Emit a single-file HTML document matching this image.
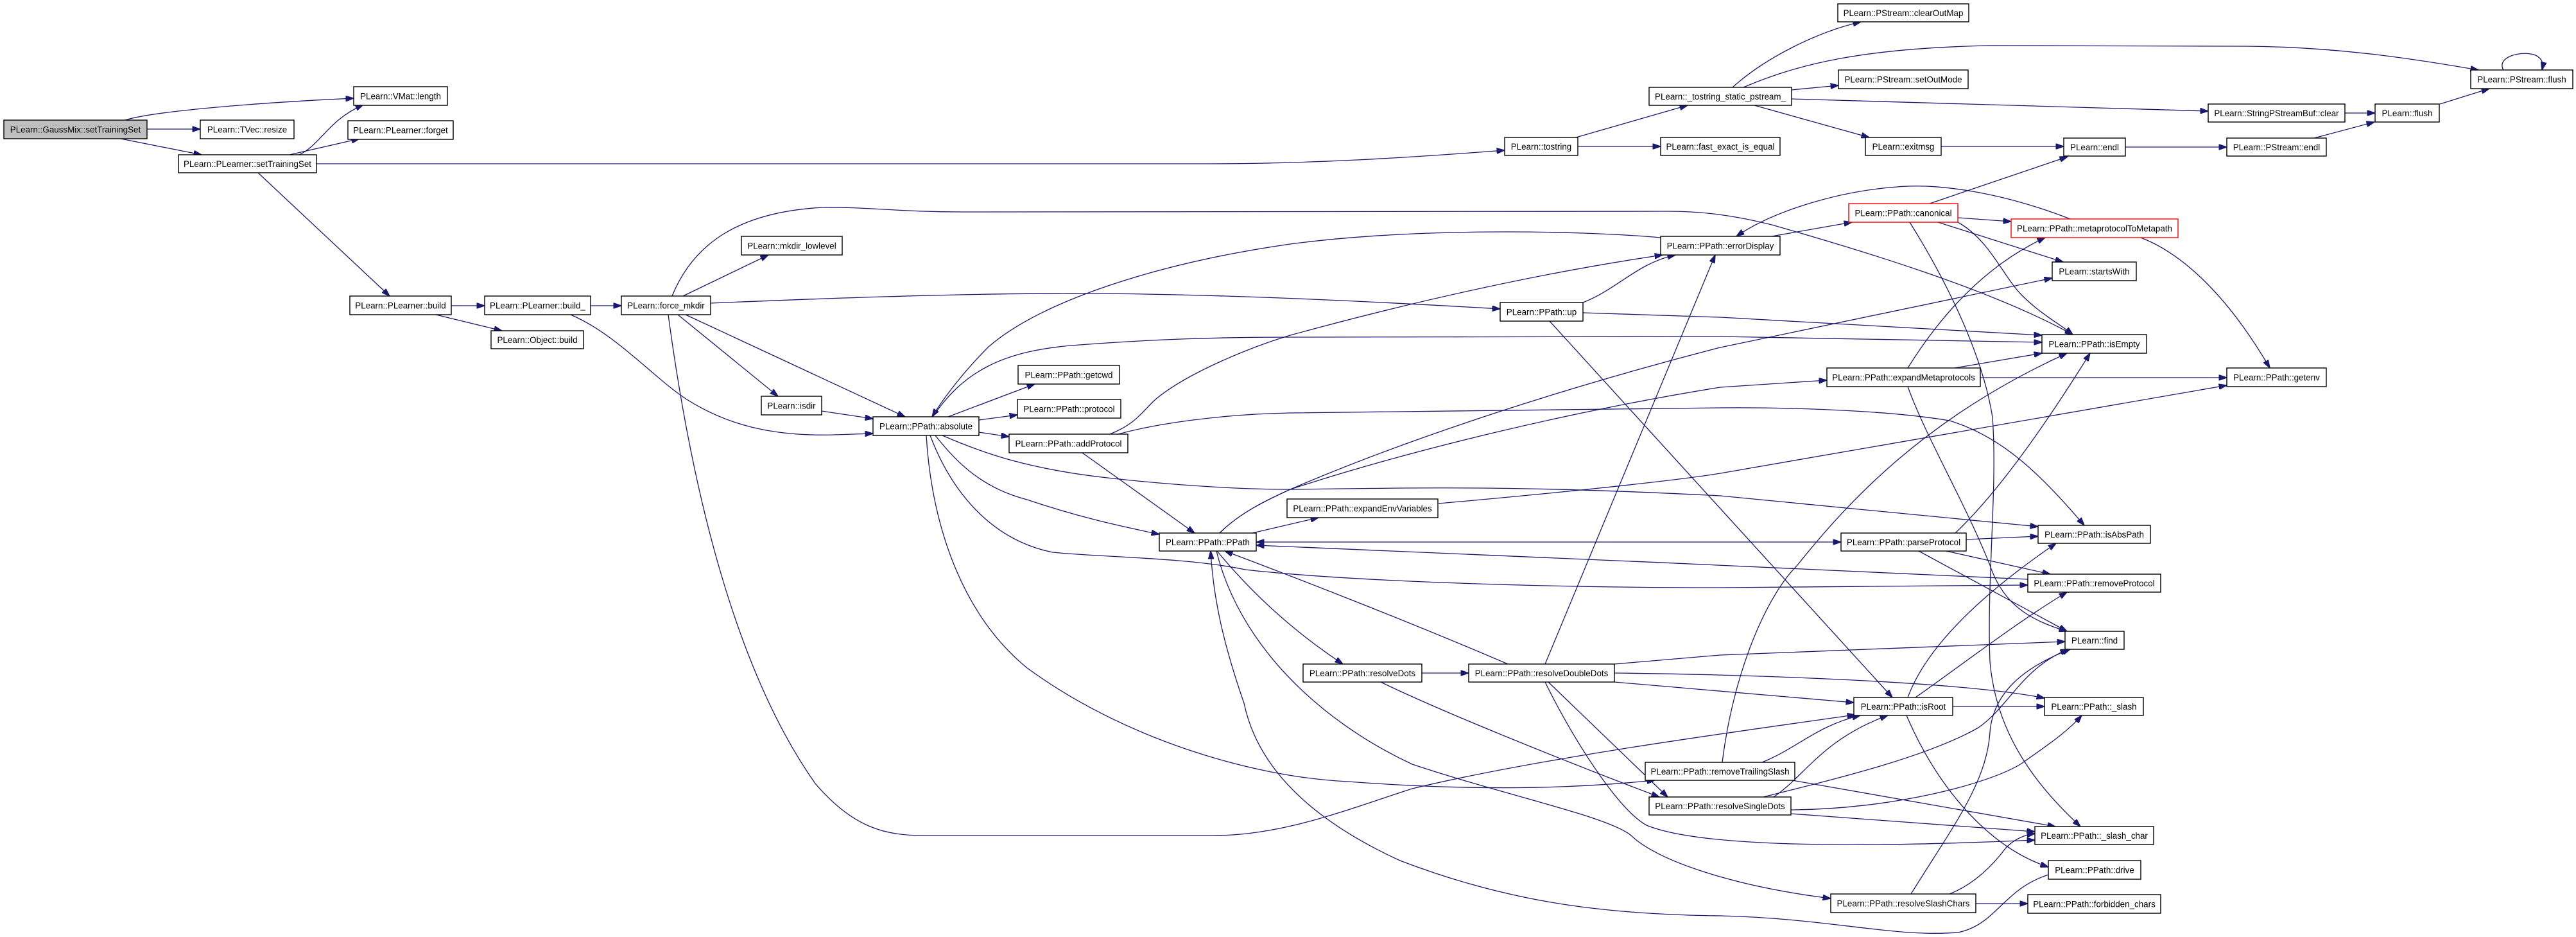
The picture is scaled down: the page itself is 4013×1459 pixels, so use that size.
<!DOCTYPE html>
<html><head><meta charset="utf-8">
<style>
html,body{margin:0;padding:0;background:#fff;}
body{width:4013px;height:1459px;overflow:hidden;}
svg{display:block;}
.n rect{fill:#fff;stroke:#000;stroke-width:1.4;}
.n text{font-family:"Liberation Sans",Arial,sans-serif;font-size:13.4px;fill:#000;text-anchor:middle;}
.e path{fill:none;stroke:#191970;stroke-width:1.3;marker-end:url(#ah);}
</style></head>
<body>
<svg width="4013" height="1459" viewBox="0 0 4013 1459" xmlns="http://www.w3.org/2000/svg">
<defs>
<marker id="ah" viewBox="0 0 13 9" refX="12.5" refY="4.5" markerWidth="13" markerHeight="9" markerUnits="userSpaceOnUse" orient="auto"><path d="M0,0 L13,4.5 L0,9 z" fill="#191970" stroke="#191970" stroke-width="1"/></marker>
<marker id="as" viewBox="0 0 13 9" refX="12.5" refY="4.5" markerWidth="13" markerHeight="9" markerUnits="userSpaceOnUse" orient="auto-start-reverse"><path d="M0,0 L13,4.5 L0,9 z" fill="#191970" stroke="#191970" stroke-width="1"/></marker>
</defs>
<rect width="4013" height="1459" fill="#fff"/>
<g class="e">
<path d="M195,187 C240,173 400,160 551,153"/>
<path d="M229,201 L312,201"/>
<path d="M188,216 L314,241"/>
<path d="M466,241 C500,225 510,188 566,163"/>
<path d="M451,241 L560,216"/>
<path d="M493,255 L1880,255 C2050,255 2200,245 2344,234"/>
<path d="M402,269 L607,461"/>
<path d="M703,476 L755,476"/>
<path d="M679,490 L782,515"/>
<path d="M920,476 L968,476"/>
<path d="M889,490 C960,520 1020,590 1070,622 C1130,660 1200,680 1300,677 L1360,675"/>
<path d="M1280,640 L1360,652"/>
<path d="M1068,490 L1410,649"/>
<path d="M1056,490 L1212,617"/>
<path d="M1064,461 L1197,397"/>
<path d="M1047,461 C1080,380 1150,330 1282,323 C1350,322 1400,330 1500,330 L2600,329 C2650,329 2700,335 2760,350 C2900,390 3100,450 3229,521"/>
<path d="M1107,472 C1250,466 1500,456 1700,457 C1900,458 2150,470 2337,481"/>
<path d="M1041,490 C1080,780 1150,1050 1270,1220 C1330,1290 1380,1301 1440,1301 L1890,1301 C2000,1301 2100,1260 2200,1228 C2400,1180 2700,1140 2890,1113"/>
<path d="M1477,649 L1612,598"/>
<path d="M1525,654 L1585,646"/>
<path d="M1525,673 L1572,680"/>
<path d="M2587,370 C2450,358 2200,355 2010,380 C1800,410 1620,470 1540,540 C1500,580 1470,620 1452,649"/>
<path d="M1453,649 C1500,580 1560,545 1682,537 C1800,528 1900,525 2010,525 L2680,524 L3181,533"/>
<path d="M1457,678 C1490,720 1530,760 1600,778 C1680,805 1740,818 1806,832"/>
<path d="M1443,678 C1450,800 1490,950 1600,1040 C1750,1150 1950,1210 2100,1217 C2300,1232 2450,1228 2578,1215"/>
<path d="M1449,678 C1480,760 1540,840 1640,860 C1720,868 1850,868 1940,887 C2100,905 2400,915 2680,915 L3159,911"/>
<path d="M1468,678 C1530,705 1600,730 1725,744 C1850,758 1950,762 2010,762 C2200,760 2350,755 2680,772 L3175,820"/>
<path d="M1686,705 L1861,830"/>
<path d="M1729,676 C1770,660 1780,640 1800,622 C1850,580 1950,540 2010,522 C2200,470 2400,425 2590,397"/>
<path d="M1742,676 C1800,660 1900,645 2010,643 L2680,635 C2800,634 2950,640 3037,655 C3120,680 3180,740 3247,818"/>
<path d="M1951,830 L2054,806"/>
<path d="M1900,830 C1930,800 1970,780 2010,762 C2200,680 2450,600 2680,541 L3197,433"/>
<path d="M1900,830 C1930,800 1970,780 2010,762 C2200,700 2450,640 2680,603 L2846,592"/>
<path d="M1957,844 L2868,844" style="marker-start:url(#as)"/>
<path d="M3159,902 C2800,886 2300,862 1957,849"/>
<path d="M1896,858 Q1980,960 2092,1034"/>
<path d="M2349,1034 C2200,970 2020,900 1908,858"/>
<path d="M2215,1048 L2288,1048"/>
<path d="M2151,1062 C2250,1110 2450,1190 2585,1241"/>
<path d="M2412,1062 L2598,1241"/>
<path d="M2407,1062 C2450,1150 2520,1260 2565,1285 C2650,1320 2900,1320 3170,1308"/>
<path d="M2407,1034 L2672,397"/>
<path d="M2515,1034 L2680,1020 L3217,999"/>
<path d="M2515,1048 C2700,1050 3050,1060 3185,1087"/>
<path d="M2515,1062 L2888,1094"/>
<path d="M1895,858 C1930,1000 2050,1120 2200,1190 C2350,1240 2500,1270 2540,1300 C2580,1340 2700,1380 2852,1399"/>
<path d="M3191,1362 C3120,1385 3110,1440 3050,1452 C2950,1460 2850,1430 2680,1426 C2500,1424 2350,1405 2181,1340 C2050,1280 1960,1200 1938,1095 C1905,1000 1890,930 1886,858"/>
<path d="M2745,1187 C2800,1165 2830,1130 2898,1114"/>
<path d="M2792,1215 L3202,1287"/>
<path d="M2683,1187 C2700,1050 2750,930 2800,880 C2880,780 3000,650 3220,550"/>
<path d="M2763,1241 C2810,1210 2840,1150 2941,1114"/>
<path d="M2747,1241 C2850,1215 3000,1180 3082,1133 C3130,1100 3150,1040 3222,1011"/>
<path d="M2790,1261 C2950,1260 3100,1220 3149,1189 C3190,1160 3220,1140 3243,1114"/>
<path d="M2790,1267 L3170,1295"/>
<path d="M3042,1100 L3185,1100"/>
<path d="M2984,1086 C3050,1040 3140,970 3220,922"/>
<path d="M2972,1086 C3000,1010 3080,930 3203,846"/>
<path d="M2970,1114 C3020,1230 3100,1320 3191,1350"/>
<path d="M2414,500 L2948,1086"/>
<path d="M2466,471 C2520,450 2550,410 2610,397"/>
<path d="M2466,487 L2680,494 L3181,522"/>
<path d="M3063,840 L3175,835"/>
<path d="M3046,830 C3120,760 3200,640 3256,550"/>
<path d="M3032,858 L3194,894"/>
<path d="M2989,858 L3220,983"/>
<path d="M2975,346 C3040,450 3090,560 3104,650 C3112,760 3095,900 3100,1030 C3110,1150 3180,1230 3241,1287"/>
<path d="M2972,602 C3000,680 3060,780 3100,880 C3120,940 3160,965 3220,983"/>
<path d="M2977,1392 C3040,1290 3095,1220 3100,1140 C3105,1080 3150,1040 3225,1011"/>
<path d="M3078,1407 L3159,1407"/>
<path d="M3037,1392 C3080,1375 3110,1340 3125,1320 C3140,1305 3155,1300 3170,1298"/>
<path d="M3335,370 C3400,395 3470,460 3536,573"/>
<path d="M3006,317 L3221,244"/>
<path d="M3050,339 L3133,345"/>
<path d="M3019,346 L3214,408"/>
<path d="M3050,346 C3100,374 3120,430 3150,460 C3180,490 3210,505 3229,521"/>
<path d="M2760,368 L2885,346"/>
<path d="M3225,341 C3120,300 3020,285 2955,291 C2860,298 2760,330 2705,368"/>
<path d="M3045,573 L3181,550"/>
<path d="M3085,588 L3469,588"/>
<path d="M2972,573 C3030,480 3100,410 3186,370"/>
<path d="M2241,784 C2400,770 2600,750 2680,737 L3469,600"/>
<path d="M2455,214 L2629,164"/>
<path d="M2458,228 L2587,228"/>
<path d="M2699,136 C2750,90 2830,50 2899,34"/>
<path d="M2791,140 L2864,133"/>
<path d="M2716,136 C2800,100 2900,75 3100,71 L3500,72 C3650,73 3780,95 3861,109"/>
<path d="M2791,154 L3440,173"/>
<path d="M2733,164 L2912,214"/>
<path d="M3024,228 L3215,228"/>
<path d="M3311,229 L3469,229"/>
<path d="M3605,215 L3699,190"/>
<path d="M3653,176 L3700,176"/>
<path d="M3801,162 L3878,138"/>
<path d="M3900,109 C3888,88 3930,78 3950,86 C3962,92 3962,100 3960,109"/>
</g>
<g class="n">
<rect x="6" y="187" width="223" height="29" style="fill:#bfbfbf"/><text x="117.5" y="206.3">PLearn::GaussMix::setTrainingSet</text>
<rect x="312" y="187" width="146" height="29"/><text x="385" y="206.3">PLearn::TVec::resize</text>
<rect x="551" y="135" width="146" height="29"/><text x="624" y="154.3">PLearn::VMat::length</text>
<rect x="542" y="188" width="164" height="29"/><text x="624" y="207.3">PLearn::PLearner::forget</text>
<rect x="278" y="241" width="215" height="28"/><text x="385.5" y="259.8">PLearn::PLearner::setTrainingSet</text>
<rect x="545" y="461" width="158" height="29"/><text x="624" y="480.3">PLearn::PLearner::build</text>
<rect x="755" y="461" width="165" height="29"/><text x="837.5" y="480.3">PLearn::PLearner::build_</text>
<rect x="968" y="461" width="139" height="29"/><text x="1037.5" y="480.3">PLearn::force_mkdir</text>
<rect x="765" y="515" width="144" height="28"/><text x="837" y="533.8">PLearn::Object::build</text>
<rect x="1155" y="368" width="157" height="29"/><text x="1233.5" y="387.3">PLearn::mkdir_lowlevel</text>
<rect x="1186" y="617" width="94" height="29"/><text x="1233" y="636.3">PLearn::isdir</text>
<rect x="2569" y="136" width="222" height="28"/><text x="2680" y="154.8">PLearn::_tostring_static_pstream_</text>
<rect x="2344" y="214" width="114" height="28"/><text x="2401" y="232.8">PLearn::tostring</text>
<rect x="2587" y="214" width="186" height="28"/><text x="2680" y="232.8">PLearn::fast_exact_is_equal</text>
<rect x="2587" y="368" width="186" height="29"/><text x="2680" y="387.3">PLearn::PPath::errorDisplay</text>
<rect x="2337" y="471" width="129" height="29"/><text x="2401.5" y="490.3">PLearn::PPath::up</text>
<rect x="1586" y="569" width="158" height="29"/><text x="1665" y="588.3">PLearn::PPath::getcwd</text>
<rect x="1585" y="622" width="161" height="29"/><text x="1665.5" y="641.3">PLearn::PPath::protocol</text>
<rect x="1360" y="649" width="165" height="29"/><text x="1442.5" y="668.3">PLearn::PPath::absolute</text>
<rect x="1572" y="676" width="185" height="29"/><text x="1664.5" y="695.3">PLearn::PPath::addProtocol</text>
<rect x="2863" y="6" width="204" height="28"/><text x="2965" y="24.8">PLearn::PStream::clearOutMap</text>
<rect x="2864" y="109" width="202" height="29"/><text x="2965" y="128.3">PLearn::PStream::setOutMode</text>
<rect x="3849" y="109" width="159" height="29"/><text x="3928.5" y="128.3">PLearn::PStream::flush</text>
<rect x="3440" y="162" width="213" height="28"/><text x="3546.5" y="180.8">PLearn::StringPStreamBuf::clear</text>
<rect x="3700" y="162" width="100" height="28"/><text x="3750" y="180.8">PLearn::flush</text>
<rect x="2906" y="214" width="118" height="28"/><text x="2965" y="232.8">PLearn::exitmsg</text>
<rect x="3215" y="215" width="96" height="28"/><text x="3263" y="233.8">PLearn::endl</text>
<rect x="3469" y="215" width="155" height="28"/><text x="3546.5" y="233.8">PLearn::PStream::endl</text>
<rect x="2880" y="317" width="170" height="29" style="stroke:#ff0000"/><text x="2965" y="336.3">PLearn::PPath::canonical</text>
<rect x="3133" y="341" width="260" height="29" style="stroke:#ff0000"/><text x="3263" y="360.3">PLearn::PPath::metaprotocolToMetapath</text>
<rect x="3197" y="408" width="131" height="29"/><text x="3262.5" y="427.3">PLearn::startsWith</text>
<rect x="3181" y="521" width="163" height="29"/><text x="3262.5" y="540.3">PLearn::PPath::isEmpty</text>
<rect x="2846" y="573" width="239" height="29"/><text x="2965.5" y="592.3">PLearn::PPath::expandMetaprotocols</text>
<rect x="3469" y="573" width="155" height="29"/><text x="3546.5" y="592.3">PLearn::PPath::getenv</text>
<rect x="2005" y="777" width="235" height="29"/><text x="2122.5" y="796.3">PLearn::PPath::expandEnvVariables</text>
<rect x="1806" y="830" width="151" height="28"/><text x="1881.5" y="848.8">PLearn::PPath::PPath</text>
<rect x="2030" y="1034" width="185" height="28"/><text x="2122.5" y="1052.8">PLearn::PPath::resolveDots</text>
<rect x="2288" y="1034" width="227" height="28"/><text x="2401.5" y="1052.8">PLearn::PPath::resolveDoubleDots</text>
<rect x="2563" y="1187" width="233" height="28"/><text x="2679.5" y="1205.8">PLearn::PPath::removeTrailingSlash</text>
<rect x="2569" y="1241" width="221" height="28"/><text x="2679.5" y="1259.8">PLearn::PPath::resolveSingleDots</text>
<rect x="3175" y="818" width="175" height="28"/><text x="3262.5" y="836.8">PLearn::PPath::isAbsPath</text>
<rect x="2868" y="830" width="195" height="28"/><text x="2965.5" y="848.8">PLearn::PPath::parseProtocol</text>
<rect x="3159" y="894" width="207" height="28"/><text x="3262.5" y="912.8">PLearn::PPath::removeProtocol</text>
<rect x="3217" y="983" width="92" height="28"/><text x="3263" y="1001.8">PLearn::find</text>
<rect x="2888" y="1086" width="154" height="28"/><text x="2965" y="1104.8">PLearn::PPath::isRoot</text>
<rect x="3185" y="1086" width="154" height="28"/><text x="3262" y="1104.8">PLearn::PPath::_slash</text>
<rect x="3170" y="1287" width="185" height="28"/><text x="3262.5" y="1305.8">PLearn::PPath::_slash_char</text>
<rect x="3191" y="1340" width="144" height="29"/><text x="3263" y="1359.3">PLearn::PPath::drive</text>
<rect x="2852" y="1392" width="226" height="29"/><text x="2965" y="1411.3">PLearn::PPath::resolveSlashChars</text>
<rect x="3159" y="1393" width="207" height="29"/><text x="3262.5" y="1412.3">PLearn::PPath::forbidden_chars</text>
</g>
</svg>
</body></html>
